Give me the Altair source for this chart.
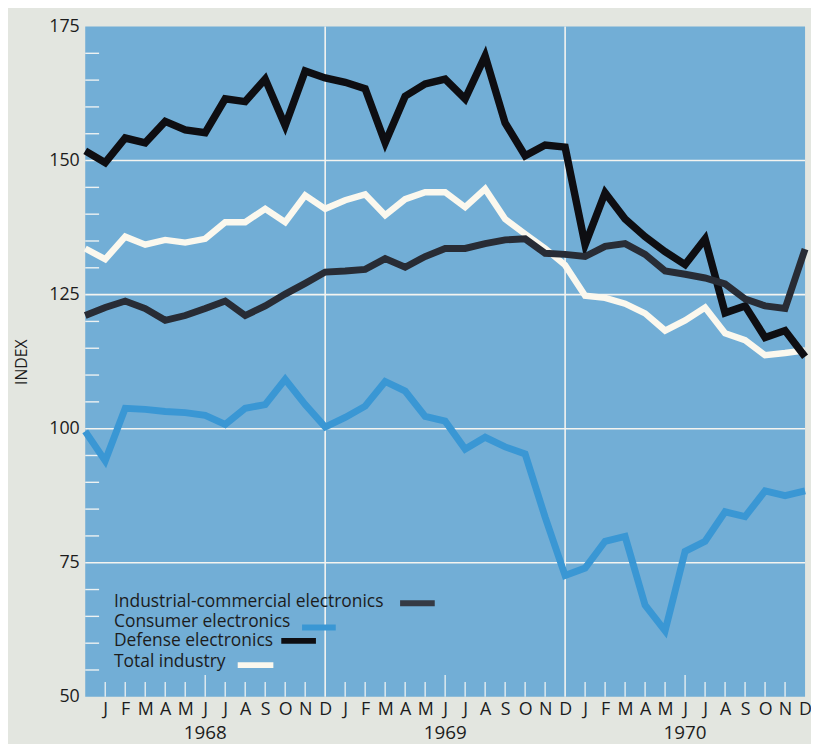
import json
import altair as alt
import pandas as pd

# ---------------- data ----------------
month_letters = ["J", "F", "M", "A", "M", "J", "J", "A", "S", "O", "N", "D"]
years = ["1968", "1969", "1970"]
series_names = [
    "Industrial-commercial electronics",
    "Consumer electronics",
    "Defense electronics",
    "Total industry",
]
# monthly index values, Dec 1967 .. Dec 1970 (37 points)
industrial = [121.1, 122.6, 123.8, 122.4, 120.2, 121.1, 122.4, 123.8, 121.1, 122.9, 125.1, 127.1, 129.2,
              129.4, 129.7, 131.7, 130.1, 132.1, 133.6, 133.6, 134.5, 135.2, 135.4, 132.7, 132.5,
              132.1, 134.0, 134.5, 132.5, 129.4, 128.8, 128.1, 127.0, 124.2, 122.9, 122.4, 133.5]
consumer = [99.5, 94.0, 103.8, 103.6, 103.2, 103.0, 102.5, 100.8, 103.8, 104.5, 109.2, 104.5, 100.3,
            102.1, 104.2, 108.8, 107.0, 102.3, 101.4, 96.2, 98.4, 96.6, 95.3, 83.5, 72.6,
            74.0, 79.0, 79.9, 67.1, 62.3, 77.1, 79.0, 84.5, 83.6, 88.4, 87.5, 88.4]
defense = [151.8, 149.6, 154.2, 153.3, 157.3, 155.7, 155.2, 161.5, 161.0, 165.2, 156.5, 166.7, 165.4,
           164.6, 163.4, 153.3, 162.0, 164.3, 165.2, 161.5, 169.5, 157.0, 150.9, 152.9, 152.5,
           134.3, 144.0, 139.1, 135.8, 133.0, 130.6, 135.4, 121.6, 122.9, 117.0, 118.3, 113.4]
total = [133.6, 131.6, 135.8, 134.3, 135.2, 134.7, 135.4, 138.5, 138.5, 141.0, 138.5, 143.5, 141.0,
         142.6, 143.7, 139.8, 142.8, 144.1, 144.1, 141.3, 144.7, 139.1, 136.3, 133.6, 130.5,
         124.8, 124.4, 123.3, 121.5, 118.3, 120.2, 122.6, 117.8, 116.5, 113.7, 114.1, 114.6]
y_labels = [50, 75, 100, 125, 150, 175]
y_grid = [75, 100, 125, 150]
y_minor = [v for v in range(55, 175, 5) if v % 25 != 0]

series_values = [industrial, consumer, defense, total]
colors = ["#282c35", "#3a97d4", "#0e0e12", "#fbf8ee"]
swatch_colors = ["#353a44", "#3a97d4", "#0e0e12", "#fbf8ee"]
widths = [7, 7, 7.5, 6.5]

n = len(defense)
rows = []
for name, vals in zip(series_names, series_values):
    for i, v in enumerate(vals):
        rows.append({"idx": i, "value": v, "series": name})
df = pd.DataFrame(rows)

x_grid = [12, 24]
x_minor = pd.DataFrame({"idx": [i for i in range(1, n - 1) if i % 12 != 0]})
year_df = pd.DataFrame({"year": years, "idx": [6 + 12 * k for k in range(len(years))]})

# ---------------- layout ----------------
W, H = 727, 677
FONT = "Open Sans"
TXT = "#1c1c1c"

xs = alt.Scale(domain=[0, n - 1], nice=False, zero=False)
ys = alt.Scale(domain=[50, 175], nice=False, zero=False)

label_expr = f"{json.dumps(month_letters)}[(datum.value - 1) % 12]"
x_axis = alt.Axis(values=list(range(1, n)), labelExpr=label_expr, domain=False, ticks=False,
                  grid=False, labelFontSize=18, labelPadding=4, labelOverlap=False,
                  labelBound=False, labelFlush=False, labelColor=TXT, labelFont=FONT,
                  title=None)
y_axis = alt.Axis(values=y_labels, domain=False, ticks=False, grid=False, labelFontSize=18,
                  labelColor=TXT, labelPadding=6, labelFont=FONT, title="INDEX",
                  titleFontSize=16, titleFontWeight="normal", titleColor=TXT, titleFont=FONT,
                  titleX=-64, titleY=H / 2, titleAngle=270, titleAlign="center",
                  titleBaseline="middle")


def X(f):
    return alt.X(f, type="quantitative", scale=xs, axis=x_axis)


def Y(f):
    return alt.Y(f, type="quantitative", scale=ys, axis=y_axis)


layers = []

# white grid lines
layers.append(alt.Chart(pd.DataFrame({"v": y_grid})).mark_rule(color="#f4f4f0", strokeWidth=1.6)
              .encode(y=Y("v")))
layers.append(alt.Chart(pd.DataFrame({"idx": x_grid})).mark_rule(color="#f4f4f0", strokeWidth=1.6)
              .encode(x=X("idx")))
# minor ticks on left edge
layers.append(alt.Chart(pd.DataFrame({"v": y_minor})).mark_rule(color="#eef2f2", strokeWidth=1.4)
              .encode(y=Y("v"), x=alt.value(0), x2=alt.value(14)))
# month ticks at bottom (inside), June taller
layers.append(alt.Chart(x_minor).mark_rule(color="#eef2f2", strokeWidth=1.3)
              .transform_filter("datum.idx % 12 != 6")
              .encode(x=X("idx"), y=alt.value(H), y2=alt.value(H - 15)))
layers.append(alt.Chart(x_minor).mark_rule(color="#eef2f2", strokeWidth=1.3)
              .transform_filter("datum.idx % 12 == 6")
              .encode(x=X("idx"), y=alt.value(H), y2=alt.value(H - 22)))

# data lines (draw order: consumer, total, defense, industrial on top)
for k in [1, 3, 2, 0]:
    layers.append(
        alt.Chart(df).transform_filter(alt.datum.series == series_names[k])
        .mark_line(color=colors[k], strokeWidth=widths[k], strokeJoin="miter", strokeCap="butt")
        .encode(x=X("idx"), y=Y("value"), order="idx:Q")
    )

# year labels under the June ticks
layers.append(alt.Chart(year_df).mark_text(fontSize=19, font=FONT, color=TXT, baseline="middle")
              .encode(x=X("idx"), y=alt.value(H + 37), text="year:N"))

# legend (text then swatch)
leg_text_y = [586.5, 606, 625.5, 646.5]
sw_x = [(318, 353), (219, 253), (198, 233), (154, 190)]
sw_y = [582.5, 607, 620.5, 645]
for k, name in enumerate(series_names):
    layers.append(alt.Chart(pd.DataFrame({"t": [name]})).mark_text(
        fontSize=17.6, font=FONT, color=TXT, align="left", baseline="alphabetic")
        .encode(x=alt.value(29), y=alt.value(leg_text_y[k]), text="t:N"))
    layers.append(alt.Chart(pd.DataFrame({"t": [name]})).mark_rule(
        color=swatch_colors[k], strokeWidth=6)
        .encode(x=alt.value(sw_x[k][0]), x2=alt.value(sw_x[k][1]), y=alt.value(sw_y[k])))

chart = (
    alt.layer(*layers)
    .properties(width=W, height=H, autosize=alt.AutoSizeParams(type="none"),
                padding={"left": 78, "top": 15, "right": 6, "bottom": 44},
                background="#e3e6e0")
    .configure_view(fill="#72aed6", stroke=None)
)

chart.save("out.html", embed_options={"renderer": "svg", "actions": False})
